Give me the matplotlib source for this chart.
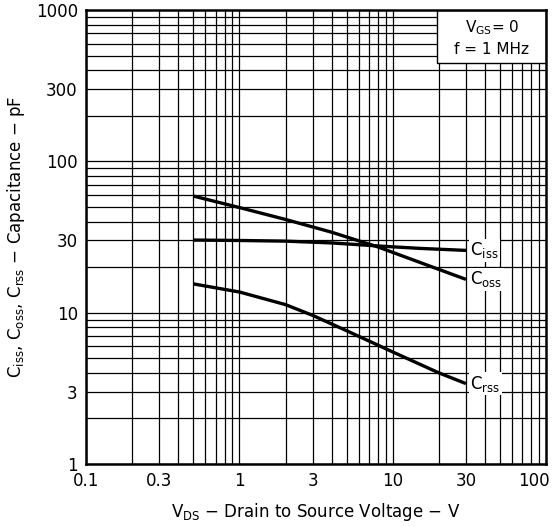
import matplotlib
matplotlib.use('Agg')
import matplotlib.pyplot as plt
import matplotlib.transforms as mtransforms
import numpy as np
from matplotlib.patches import Rectangle

plt.rcParams['font.family'] = ['DejaVu Sans']
plt.rcParams['mathtext.default'] = 'regular'

# values (V, pF)
v_ciss = [0.5, 1, 2, 4, 8, 15, 30]
c_ciss = [30.2, 30, 29.7, 28.9, 27.6, 26.6, 25.8]

v_coss = [0.5, 1, 2, 4, 8, 15, 30]
c_coss = [59, 49.5, 41.3, 34, 27.2, 21.5, 16.6]

v_crss = [0.5, 1, 2, 3, 5, 10, 20, 30]
c_crss = [15.5, 13.7, 11.3, 9.6, 7.6, 5.5, 4.0, 3.4]

xticks = [0.1, 0.3, 1, 3, 10, 30, 100]
xtick_labels = ['0.1', '0.3', '1', '3', '10', '30', '100']
yticks = [1, 3, 10, 30, 100, 300, 1000]
ytick_labels = ['1', '3', '10', '30', '100', '300', '1000']

fig = plt.figure(figsize=(5.59, 5.27), dpi=100)
ax = fig.add_axes([0.154, 0.1195, 0.823, 0.8615])

ax.set_xscale('log')
ax.set_yscale('log')
ax.set_xlim(0.1, 100)
ax.set_ylim(1, 1000)

# grid lines at every 1..9 multiple of each decade
for dec in [0.1, 1, 10]:
    for m in range(1, 10):
        ax.axvline(dec * m, color='black', lw=0.9, zorder=1)
for dec in [1, 10, 100]:
    for m in range(1, 10):
        ax.axhline(dec * m, color='black', lw=0.9, zorder=1)

lw = 2.4
ax.plot(v_ciss, c_ciss, color='black', lw=lw, zorder=3, solid_capstyle='butt')
ax.plot(v_coss, c_coss, color='black', lw=lw, zorder=3, solid_capstyle='butt')
ax.plot(v_crss, c_crss, color='black', lw=lw, zorder=3, solid_capstyle='butt')

for lab, y in [('C$_{iss}$', c_ciss[-1]), ('C$_{oss}$', c_coss[-1]),
               ('C$_{rss}$', c_crss[-1])]:
    ax.text(32, y, lab, fontsize=12, va='center', ha='left', zorder=4,
            bbox=dict(facecolor='white', edgecolor='none', pad=1))

# conditions box
ax.add_patch(Rectangle((0.763, 0.883), 0.237, 0.117, transform=ax.transAxes,
                       facecolor='white', edgecolor='black', lw=1.0, zorder=5))
ax.text(0.882, 0.962, 'V$_{GS}$= 0', transform=ax.transAxes, fontsize=11,
        ha='center', va='center', zorder=6)
ax.text(0.882, 0.912, 'f = 1 MHz', transform=ax.transAxes, fontsize=11,
        ha='center', va='center', zorder=6)

ax.set_xticks(xticks)
ax.set_xticklabels(xtick_labels)
ax.set_yticks(yticks)
ax.set_yticklabels(ytick_labels)
ax.minorticks_off()
ax.tick_params(length=0, labelsize=12, pad=6)

# last x label sits a little left, as in the original scan
last = ax.get_xticklabels()[-1]
last.set_transform(last.get_transform() +
                   mtransforms.ScaledTranslation(-9 / 72, 0, fig.dpi_scale_trans))

for s in ax.spines.values():
    s.set_linewidth(1.8)
    s.set_zorder(7)

ax.set_xlabel('V$_{DS}$ − Drain to Source Voltage − V', fontsize=12, labelpad=8)
ax.set_ylabel('C$_{iss}$, C$_{oss}$, C$_{rss}$ − Capacitance − pF', fontsize=12, labelpad=6)

fig.savefig('out.png', dpi=100)
